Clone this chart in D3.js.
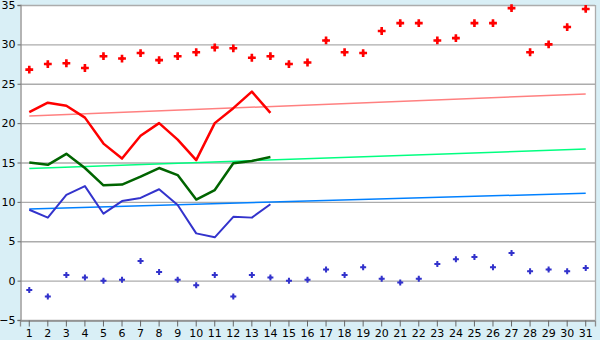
<!doctype html>
<html lang="en">
<head>
  <meta charset="utf-8">
  <title>Daily temperatures</title>
  <style>
    body { margin: 0; background: #d9eff6; }
    svg { display: block; }
  </style>
</head>
<body>
<svg id="chart"></svg>
<script src="https://d3js.org/d3.v7.min.js"></script>
<script>
var width = 600;
var height = 340;

// days of the month
var days = d3.range(1, 32);
var yTicks = [-5, 0, 5, 10, 15, 20, 25, 30, 35];

// daily points (whole month)
var maxPoints = [26.8, 27.5, 27.6, 27.0, 28.5, 28.2, 28.9, 28.0, 28.5, 29.0,
                 29.6, 29.5, 28.3, 28.5, 27.5, 27.7, 30.5, 29.0, 28.9, 31.7,
                 32.7, 32.7, 30.5, 30.8, 32.7, 32.7, 34.6, 29.0, 30.0, 32.2, 34.5];
var minPoints = [-1.2, -2.0, 0.7, 0.4, 0.0, 0.1, 2.5, 1.1, 0.1, -0.6,
                 0.7, -2.0, 0.7, 0.4, 0.0, 0.1, 1.4, 0.7, 1.7, 0.25,
                 -0.25, 0.25, 2.1, 2.7, 3.0, 1.7, 3.5, 1.2, 1.4, 1.2, 1.6];

// lines for the first 14 days
var maxLine = [21.4, 22.6, 22.2, 20.7, 17.4, 15.5, 18.4, 20.0, 17.9, 15.3, 20.0, 21.9, 24.0, 21.3];
var meanLine = [15.0, 14.7, 16.1, 14.3, 12.1, 12.2, 13.2, 14.3, 13.4, 10.3, 11.5, 14.9, 15.2, 15.7];
var minLine = [9.0, 8.0, 10.9, 12.0, 8.5, 10.1, 10.5, 11.6, 9.6, 6.0, 5.5, 8.1, 8.0, 9.7];

// trend lines: value on day 1 and day 31
var maxTrend = [20.9, 23.7];
var meanTrend = [14.25, 16.7];
var minTrend = [9.1, 11.1];

var svg = d3.select("#chart")
  .attr("width", width)
  .attr("height", height);

var plotL = 20, plotR = 595, plotT = 5, plotB = 320;

var x = d3.scaleBand()
  .domain(days)
  .range([plotL, plotR])
  .padding(0);

var cx = function(d) { return x(d) + x.bandwidth() / 2; };

var y = d3.scaleLinear()
  .domain([-5, 35])
  .range([plotB, plotT]);

svg.append("rect")
  .attr("x", plotL)
  .attr("y", plotT)
  .attr("width", plotR - plotL)
  .attr("height", plotB - plotT)
  .style("fill", "white");

// grid
svg.append("g")
  .selectAll("line")
  .data(yTicks)
  .enter()
  .append("line")
  .attr("x1", plotL)
  .attr("x2", plotR)
  .attr("y1", function(d) { return y(d) + 0.5; })
  .attr("y2", function(d) { return y(d) + 0.5; })
  .style("stroke", "#acacac")
  .style("stroke-width", 1.3);

svg.append("line")
  .attr("x1", plotR + 0.5).attr("x2", plotR + 0.5)
  .attr("y1", plotT).attr("y2", plotB)
  .style("stroke", "#acacac")
  .style("stroke-width", 1.3);

// axes
var xAxis = svg.append("g")
  .attr("transform", "translate(0," + (plotB + 0.5) + ")")
  .call(d3.axisBottom(x).tickSizeOuter(0).tickSize(6).tickPadding(3));

var yAxis = svg.append("g")
  .attr("transform", "translate(" + (plotL + 0.5) + ",0)")
  .call(d3.axisLeft(y).tickValues(yTicks).tickSizeOuter(0).tickSize(3).tickPadding(2));

[xAxis, yAxis].forEach(function(a) {
  a.select(".domain").style("stroke", "#8c8c8c").style("stroke-width", 1.3);
  a.selectAll(".tick line").style("stroke", "#666");
  a.selectAll("text")
    .style("font-family", "'DejaVu Sans', Verdana, sans-serif")
    .style("font-size", "11px")
    .style("fill", "#000");
});
yAxis.selectAll(".tick text").text(function(d) { return d < 0 ? "\u22125" : d; });

// trend lines
var trends = [
  { v: maxTrend, c: "#ff8080" },
  { v: meanTrend, c: "#00ff80" },
  { v: minTrend, c: "#0080ff" }
];
trends.forEach(function(t) {
  svg.append("line")
    .attr("x1", cx(days[0]))
    .attr("x2", cx(days[days.length - 1]))
    .attr("y1", y(t.v[0]))
    .attr("y2", y(t.v[1]))
    .style("stroke", t.c)
    .style("stroke-width", 1.5);
});

// lines
var line = d3.line()
  .x(function(d, i) { return cx(days[i]); })
  .y(function(d) { return y(d); });

[
  { v: maxLine, c: "#ff0000", w: 2.5 },
  { v: meanLine, c: "#006400", w: 2.5 },
  { v: minLine, c: "#3333cc", w: 2 }
].forEach(function(s) {
  svg.append("path").datum(s.v).attr("d", line)
    .style("fill", "none")
    .style("stroke", s.c)
    .style("stroke-width", s.w)
    .style("stroke-linejoin", "round");
});

// point markers (plus with a filled centre)
var renderPoints = function(vals, color, size) {
  var sym = d3.symbol().type(d3.symbolCross).size(size);
  var dia = d3.symbol().type(d3.symbolSquare).size(size * 0.4);
  var g = svg.append("g");
  var pos = function(d, i) { return "translate(" + cx(days[i]) + "," + y(d) + ")"; };
  g.selectAll("path.c").data(vals).enter().append("path")
    .attr("class", "c")
    .attr("d", sym)
    .attr("transform", pos)
    .style("fill", color);
  g.selectAll("path.s").data(vals).enter().append("path")
    .attr("class", "s")
    .attr("d", dia)
    .attr("transform", function(d, i) { return pos(d, i) + " rotate(45)"; })
    .style("fill", color);
};
renderPoints(maxPoints, "#ff0000", 34);
renderPoints(minPoints, "#3333cc", 20);
</script>
</body>
</html>
